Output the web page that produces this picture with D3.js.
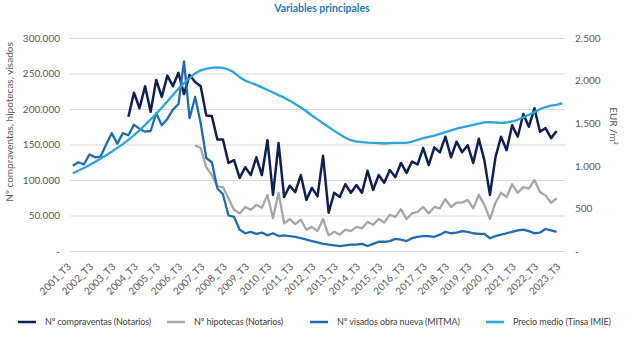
<!DOCTYPE html>
<html>
<head>
<meta charset="utf-8">
<script src="https://cdn.jsdelivr.net/npm/d3@7"></script>
<style>
    body { margin: 0; background: #fff; }
    svg { display: block; font-family: Lato, "Open Sans", sans-serif; }
</style>
</head>
<body>
<svg id="chart" width="638" height="338"></svg>
<script>
// quarters 2001_T3 .. 2023_T3
var firstYear = 2001, firstQuarter = 3, nQuarters = 89;
var quarters = [];
for (var q = 0; q < nQuarters; q++) {
    var k = firstQuarter - 1 + q;
    quarters.push((firstYear + Math.floor(k / 4)) + '_T' + (k % 4 + 1));
}

var seriesNames = ['Nº compraventas (Notarios)', 'Nº hipotecas (Notarios)',
    'Nº visados obra nueva (MITMA)', 'Precio medio (Tinsa IMIE)'];

var compraventas = [null, null, null, null, null, null, null, null, null, null,
    189000, 223000, 201000, 232000, 196000, 241000, 217000, 247000, 232000, 251000,
    221000, 248000, 238000, 232000, 191000, 190000, 157000, 157000, 124000, 128000,
    103000, 118000, 107000, 132000, 107000, 156000, 79000, 152000, 76000, 92000,
    83000, 107000, 72000, 89000, 77000, 134000, 54000, 82000, 76000, 94000,
    82000, 93000, 82000, 113000, 86000, 107000, 96000, 114000, 104000, 124000,
    110000, 126000, 122000, 145000, 121000, 146000, 139000, 161000, 132000, 154000,
    139000, 149000, 124000, 158000, 128000, 79000, 132000, 161000, 142000, 177000,
    161000, 193000, 175000, 201000, 168000, 173000, 159000, 169000, null];

var hipotecas = [null, null, null, null, null, null, null, null, null, null,
    null, null, null, null, null, null, null, null, null, null,
    null, null, 149000, 145000, 118000, 107000, 91000, 90000, 74000, 58000,
    53000, 62000, 58000, 65000, 61000, 79000, 46000, 82000, 39000, 45000,
    38000, 44000, 30000, 34000, 28000, 45000, 22000, 27000, 23000, 30000,
    28000, 34000, 32000, 41000, 37000, 45000, 40000, 51000, 48000, 59000,
    45000, 53000, 55000, 62000, 53000, 62000, 60000, 73000, 62000, 68000,
    68000, 72000, 60000, 79000, 65000, 45000, 68000, 82000, 76000, 94000,
    82000, 90000, 88000, 100000, 83000, 78000, 68000, 74000, null];

var visados = [120000, 125000, 122000, 136000, 132000, 133000, 150000, 166000, 151000, 166000,
    163000, 178000, 172000, 168000, 169000, 194000, 177000, 186000, 199000, 207000,
    267000, 187000, 217000, 180000, 131000, 125000, 88000, 80000, 50000, 48000,
    30000, 25000, 27000, 24000, 26000, 22000, 25000, 21000, 22000, 21000,
    20000, 18000, 16000, 14000, 12000, 10000, 9000, 8000, 7000, 8000,
    9000, 9000, 10000, 7000, 10000, 13000, 13000, 14000, 17000, 16000,
    14000, 18000, 20000, 21000, 21000, 20000, 23000, 27000, 25000, 26000,
    28000, 27000, 25000, 24000, 24000, 18000, 21000, 23000, 25000, 27000,
    29000, 30000, 28000, 25000, 26000, 31000, 29000, 27000, null];

var precio = [910, 945, 975, 1010, 1045, 1085, 1125, 1165, 1210, 1255,
    1305, 1360, 1415, 1480, 1545, 1610, 1680, 1755, 1830, 1905,
    1970, 2030, 2085, 2120, 2140, 2150, 2155, 2150, 2130, 2095,
    2040, 2000, 1975, 1950, 1920, 1890, 1860, 1830, 1800, 1765,
    1725, 1685, 1640, 1590, 1545, 1500, 1455, 1410, 1370, 1330,
    1300, 1285, 1278, 1272, 1268, 1265, 1262, 1265, 1268, 1268,
    1268, 1285, 1305, 1325, 1340, 1355, 1375, 1395, 1415, 1435,
    1450, 1465, 1480, 1495, 1510, 1512, 1508, 1505, 1508, 1520,
    1540, 1570, 1600, 1630, 1665, 1690, 1705, 1715, 1735];

var leftTicks = [0, 50000, 100000, 150000, 200000, 250000, 300000];
var rightTicks = [0, 500, 1000, 1500, 2000, 2500];

var colors = ['#0e1f55', '#a6a6a6', '#1f6cb4', '#2ba5e2'];

var plotLeft = 70, plotRight = 565, plotTop = 38, plotBottom = 251;

var es = d3.formatLocale({ decimal: ',', thousands: '.', grouping: [3], currency: ['', '€'] });
var fmt = es.format(',d');
function tickFmt(d) { return d === 0 ? '-' : fmt(d); }

var svg = d3.select('#chart');

var x = d3.scalePoint()
    .domain(quarters)
    .range([plotLeft, plotRight])
    .padding(0.5);

var yLeft = d3.scaleLinear().domain([0, 300000]).range([plotBottom, plotTop]);
var yRight = d3.scaleLinear().domain([0, 2500]).range([plotBottom, plotTop]);

// title
svg.append('text')
    .attr('x', 322).attr('y', 12)
    .attr('text-anchor', 'middle')
    .attr('font-size', 10.5)
    .attr('font-weight', 'bold')
    .attr('fill', '#1f7bc2')
    .text('Variables principales');

// left axis with gridlines
var gLeft = svg.append('g')
    .attr('transform', 'translate(' + plotLeft + ',0)')
    .call(d3.axisLeft(yLeft)
        .tickValues(leftTicks)
        .tickSize(-(plotRight - plotLeft))
        .tickPadding(10)
        .tickFormat(tickFmt));
gLeft.select('.domain').remove();
gLeft.selectAll('line').attr('stroke', '#d9d9d9');
gLeft.selectAll('text').attr('fill', '#595959').attr('font-size', 10)
    .attr('font-family', 'Lato, sans-serif');

var gRight = svg.append('g')
    .attr('transform', 'translate(' + plotRight + ',0)')
    .call(d3.axisRight(yRight)
        .tickValues(rightTicks)
        .tickSize(0)
        .tickPadding(10)
        .tickFormat(tickFmt));
gRight.select('.domain').remove();
gRight.selectAll('text').attr('fill', '#595959').attr('font-size', 10)
    .attr('font-family', 'Lato, sans-serif');

var gX = svg.append('g')
    .attr('transform', 'translate(0,' + plotBottom + ')')
    .call(d3.axisBottom(x)
        .tickValues(quarters.filter(function(d, i) { return i % 4 === 0; }))
        .tickSize(0));
gX.select('.domain').remove();
gX.selectAll('text')
    .attr('x', 0).attr('y', 0).attr('dy', '0.35em')
    .attr('transform', 'translate(-4,14) rotate(-45)')
    .attr('text-anchor', 'end')
    .attr('fill', '#595959').attr('font-size', 10)
    .attr('font-family', 'Lato, sans-serif');

// axis titles
svg.append('text')
    .attr('transform', 'translate(13,122) rotate(-90)')
    .attr('text-anchor', 'middle')
    .attr('font-size', 10)
    .attr('fill', '#595959')
    .text('Nº compraventas, hipotecas, visados');

svg.append('text')
    .attr('transform', 'translate(610,126) rotate(90)')
    .attr('text-anchor', 'middle')
    .attr('font-size', 10)
    .attr('fill', '#595959')
    .text('EUR /m²');

function lineFor(scale) {
    return d3.line()
        .defined(function(d) { return d != null; })
        .x(function(d, i) { return x(quarters[i]); })
        .y(function(d) { return scale(d); });
}

var allSeries = [
    { values: compraventas, scale: yLeft, width: 2.5 },
    { values: hipotecas, scale: yLeft, width: 2.3 },
    { values: visados, scale: yLeft, width: 2.3 },
    { values: precio, scale: yRight, width: 2.3 }
];

allSeries.forEach(function(s, i) {
    svg.append('path')
        .datum(s.values)
        .attr('d', lineFor(s.scale))
        .attr('fill', 'none')
        .attr('stroke', colors[i])
        .attr('stroke-width', s.width)
        .attr('stroke-linejoin', 'round');
});

// legend
var legendX = [18, 167, 310, 486];
var legendY = 322;
var legend = svg.append('g');
seriesNames.forEach(function(name, i) {
    legend.append('line')
        .attr('x1', legendX[i]).attr('x2', legendX[i] + 18)
        .attr('y1', legendY).attr('y2', legendY)
        .attr('stroke', colors[i])
        .attr('stroke-width', 2.5);
    legend.append('text')
        .attr('x', legendX[i] + 27).attr('y', legendY)
        .attr('dy', '0.35em')
        .attr('font-size', 9)
        .attr('letter-spacing', -0.1)
        .attr('fill', '#404040')
        .text(name);
});
</script>
</body>
</html>
